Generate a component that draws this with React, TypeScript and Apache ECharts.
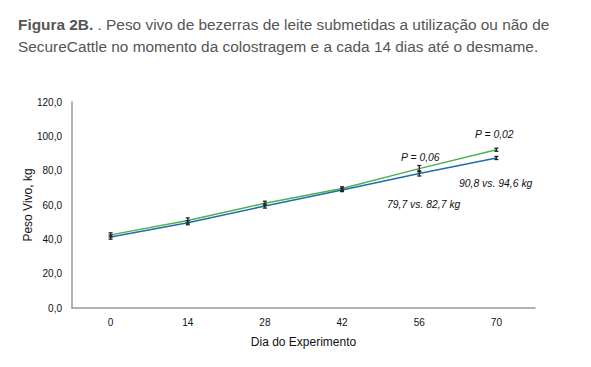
import React, { useEffect, useRef } from "react";
import * as echarts from "echarts";

const days = ["0", "14", "28", "42", "56", "70"];
const controlWeight = [41.3, 49.7, 59.4, 68.8, 78.4, 87.4];
const secureWeight = [42.6, 51.0, 61.0, 69.6, 81.2, 92.2];
const controlErr = [1.2, 1.2, 1.2, 1.0, 1.5, 0.9];
const secureErr = [1.2, 1.5, 1.2, 1.0, 1.8, 0.9];
const titleLine1 = "Peso vivo de bezerras de leite submetidas a utilização ou não de";
const titleLine2 = "SecureCattle no momento da colostragem e a cada 14 dias até o desmame.";
const annotations = [
  { text: "P = 0,02", x: 475, y: 134 },
  { text: "P = 0,06", x: 401, y: 157 },
  { text: "90,8 vs. 94,6 kg", x: 459, y: 183 },
  { text: "79,7 vs. 82,7 kg", x: 387, y: 204 },
];

const FONT = "'Liberation Sans', Arial, Helvetica, sans-serif";

function errorSeries(vals: number[], errs: number[]) {
  return {
    type: "custom",
    z: 5,
    data: vals.map((v, i) => [i, v - errs[i], v + errs[i]]),
    renderItem: (params: any, api: any) => {
      const x = api.value(0);
      const lo = api.coord([x, api.value(1)]);
      const hi = api.coord([x, api.value(2)]);
      const cap = 2;
      const style = { stroke: "#222", lineWidth: 1.3 };
      return {
        type: "group",
        children: [
          { type: "line", shape: { x1: lo[0], y1: lo[1], x2: hi[0], y2: hi[1] }, style },
          { type: "line", shape: { x1: lo[0] - cap, y1: lo[1], x2: lo[0] + cap, y2: lo[1] }, style },
          { type: "line", shape: { x1: hi[0] - cap, y1: hi[1], x2: hi[0] + cap, y2: hi[1] }, style },
        ],
      };
    },
  };
}

export default function App() {
  const ref = useRef<HTMLDivElement>(null);
  useEffect(() => {
    document.body.style.margin = "0";
    const chart = echarts.init(ref.current!, null, { renderer: "svg" });
    chart.setOption({
      animation: false,
      backgroundColor: "#ffffff",
      textStyle: { fontFamily: FONT },
      grid: { left: 72, right: 56, top: 102, bottom: 59 },
      xAxis: {
        type: "category",
        data: days,
        boundaryGap: true,
        axisLine: { lineStyle: { color: "#999", width: 1.5 } },
        axisTick: { show: false },
        axisLabel: { color: "#111", fontSize: 10, margin: 9 },
        name: "Dia do Experimento",
        nameLocation: "middle",
        nameGap: 28,
        nameMoveOverlap: false,
        nameTextStyle: { color: "#111", fontSize: 12 },
      },
      yAxis: {
        type: "value",
        min: 0,
        max: 120,
        interval: 20,
        axisLine: { show: true, lineStyle: { color: "#999", width: 1.5 } },
        axisTick: { show: false },
        splitLine: { show: false },
        axisLabel: {
          color: "#111",
          fontSize: 10,
          margin: 10,
          formatter: (v: number) => v.toFixed(1).replace(".", ","),
        },
        name: "Peso Vivo, kg",
        nameLocation: "middle",
        nameGap: 38,
        nameMoveOverlap: false,
        nameTextStyle: { color: "#111", fontSize: 12 },
      },
      series: [
        {
          type: "line",
          data: secureWeight,
          symbol: "none",
          lineStyle: { color: "#4cb050", width: 1.5 },
          z: 3,
        },
        {
          type: "line",
          data: controlWeight,
          symbol: "none",
          lineStyle: { color: "#1f6fa8", width: 1.5 },
          z: 3,
        },
        errorSeries(secureWeight, secureErr),
        errorSeries(controlWeight, controlErr),
      ],
      graphic: [
        {
          type: "text",
          left: 18,
          top: 13,
          style: {
            rich: {
              b: { fontWeight: "bold", fontSize: 15.4, fill: "#555", fontFamily: FONT },
              n: { fontSize: 15.4, fill: "#555", fontFamily: FONT },
            },
            text: "{b|Figura 2B.}{n| . " + titleLine1 + "}\n{n|" + titleLine2 + "}",
            lineHeight: 22,
          },
        },
        ...annotations.map((a) => ({
          type: "text",
          x: a.x,
          y: a.y,
          style: {
            text: a.text,
            fontSize: 10.4,
            fontStyle: "italic",
            fill: "#111",
            fontFamily: FONT,
            verticalAlign: "middle",
          },
        })),
      ],
    });
    return () => chart.dispose();
  }, []);
  return <div ref={ref} style={{ width: 591, height: 367 }} />;
}
